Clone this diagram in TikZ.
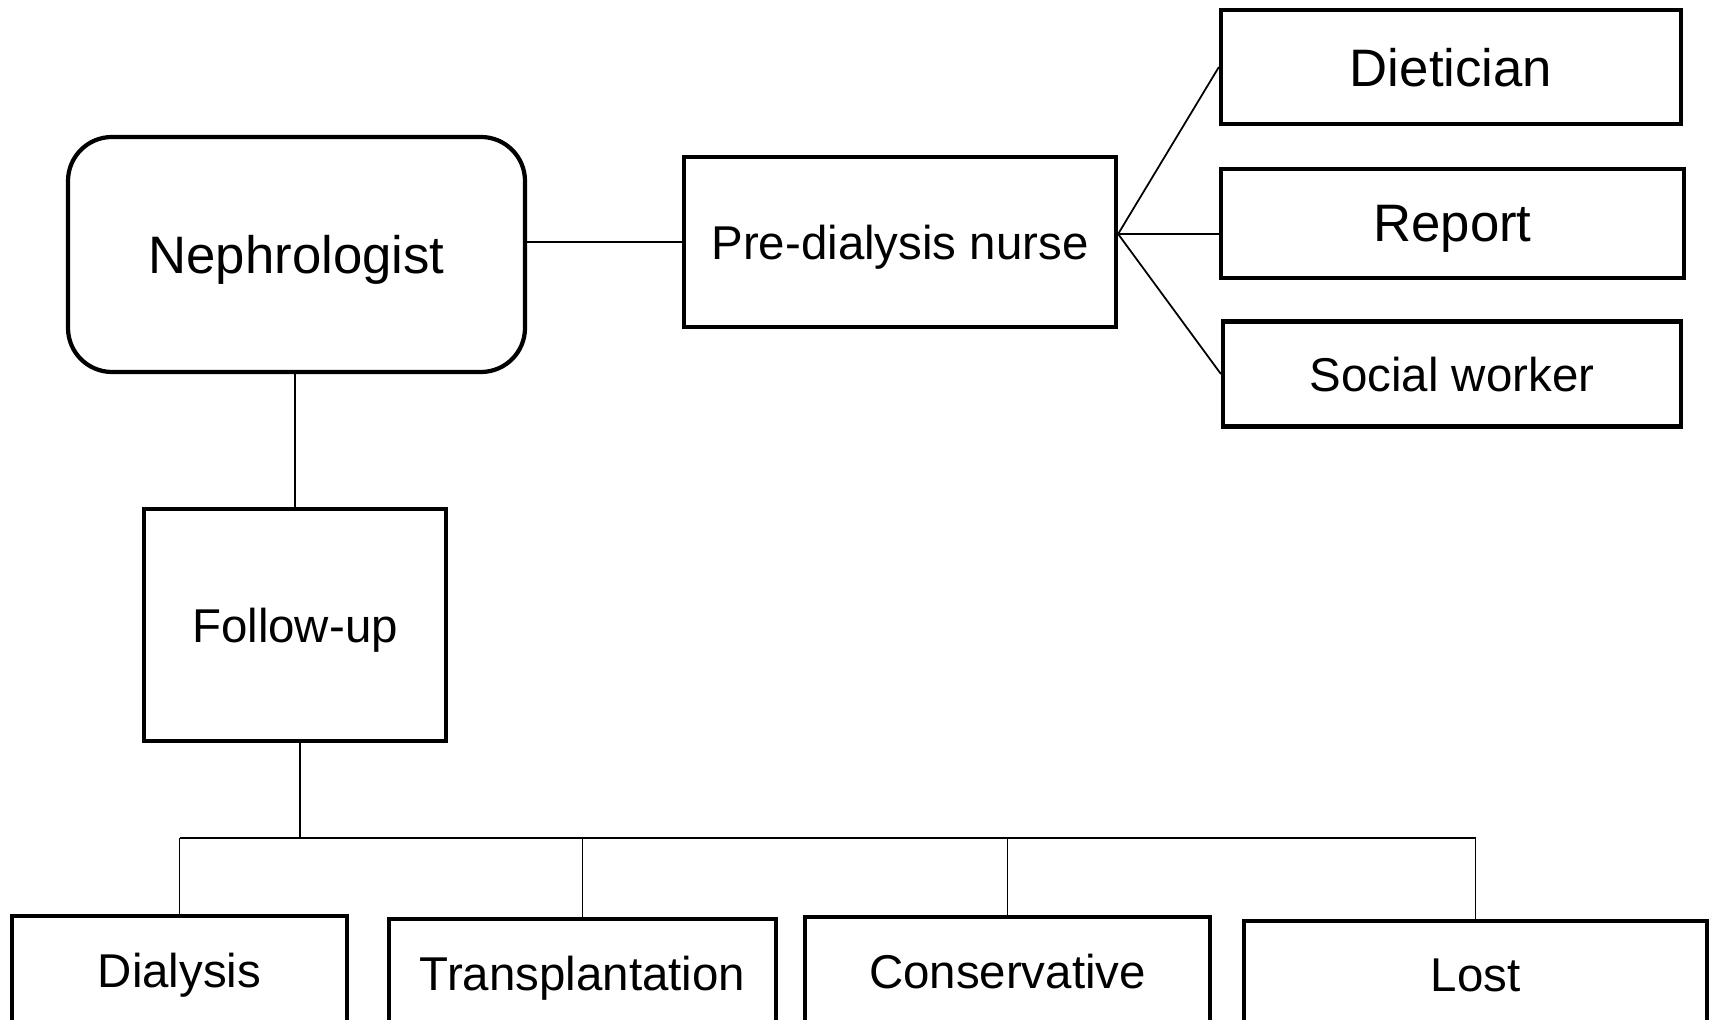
\documentclass[tikz,border=0pt]{standalone}
\usepackage{fontspec}
\setmainfont{Liberation Sans}
\begin{document}
\begin{tikzpicture}[auto,
    stage/.style ={rectangle, draw, line width=1.2pt, inner sep=0pt, text depth=0pt, align=center, font=\fontsize{13.5}{16}\selectfont},
    bigstage/.style ={stage, font=\fontsize{15}{18}\selectfont},
    link/.style ={line width=0.5pt}]
   \useasboundingbox (0,0) rectangle (17.14,-10.20);
   \clip (0,0) rectangle (17.14,-10.20);
   % top row
   \node[bigstage, rounded corners=0.44cm, minimum width=4.57cm, minimum height=2.35cm] (neph) at (2.965,-2.545) {Nephrologist};
   \node[stage, minimum width=4.32cm, minimum height=1.70cm] (nurse) at (9.00,-2.42) {Pre-dialysis nurse};
   \node[bigstage, minimum width=4.60cm, minimum height=1.14cm] (diet) at (14.51,-0.67) {Dietician};
   \node[bigstage, minimum width=4.63cm, minimum height=1.09cm] (report) at (14.525,-2.235) {Report};
   \node[stage, minimum width=4.58cm, minimum height=1.05cm] (social) at (14.52,-3.74) {Social worker};
   % follow-up and outcomes
   \node[stage, minimum width=3.02cm, minimum height=2.32cm] (follow) at (2.95,-6.25) {Follow-up};
   \node[stage, minimum width=3.35cm, minimum height=1.08cm] (dialysis) at (1.795,-9.70) {Dialysis};
   \node[stage, minimum width=3.87cm, minimum height=1.08cm] (transp) at (5.825,-9.73) {Transplantation};
   \node[stage, minimum width=4.05cm, minimum height=1.08cm] (conserv) at (10.075,-9.71) {Conservative};
   \node[stage, minimum width=4.63cm, minimum height=1.08cm] (lost) at (14.755,-9.75) {Lost};
   \coordinate (fan) at ([yshift=0.08cm]nurse.east);
   \coordinate (bus) at ([xshift=0.05cm,yshift=-0.95cm]follow.south);
   \draw[link] (nurse.west) to (nurse.west -| neph.east);
   \draw[link] (fan) to (diet.west);
   \draw[link] (fan) to (fan -| report.west);
   \draw[link] (fan) to (social.west);
   \draw[link] (follow.north) to (follow.north |- neph.south);
   \draw[link] ([xshift=0.05cm]follow.south) to (bus);
   \draw[link] (dialysis.north |- bus) to (lost.north |- bus);
   \foreach \n in {dialysis, transp, conserv, lost}
     \draw[link] (\n.north |- bus) to (\n.north);
 \end{tikzpicture}
\end{document}
